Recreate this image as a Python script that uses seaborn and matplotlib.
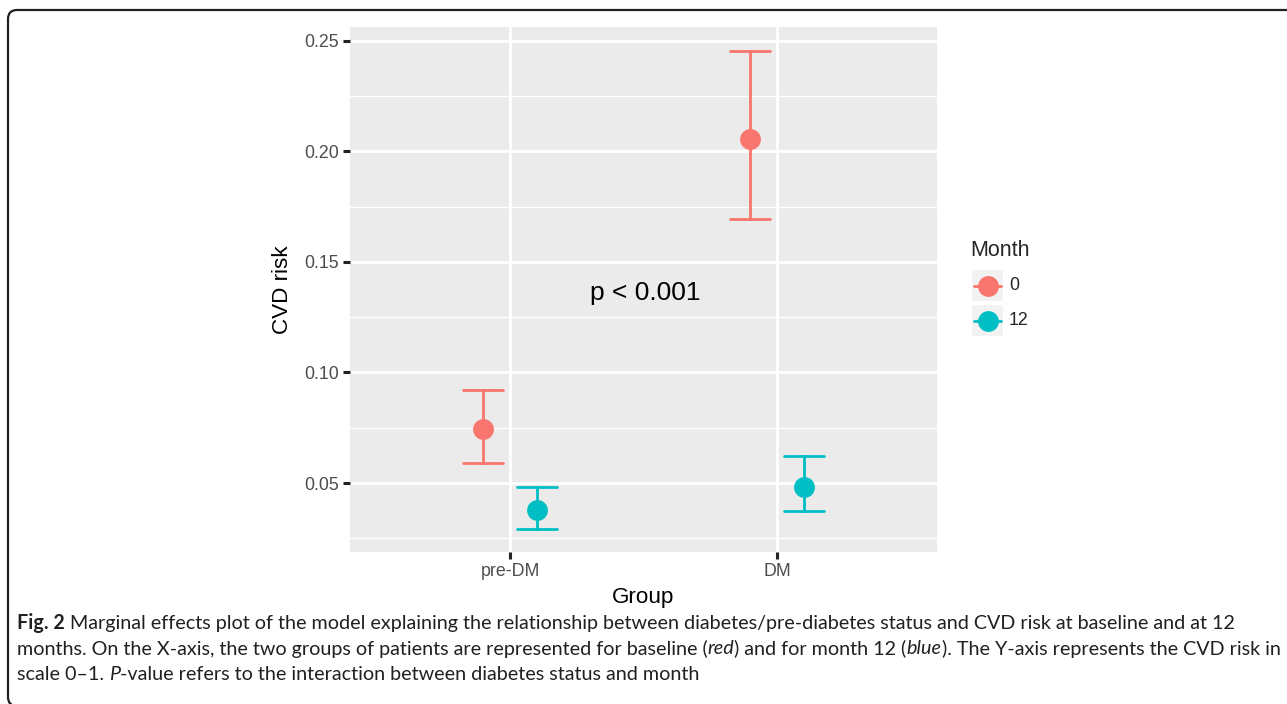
import numpy as np
import pandas as pd
import matplotlib
matplotlib.use("Agg")
import matplotlib.pyplot as plt
from matplotlib.patches import FancyBboxPatch, Rectangle
from matplotlib.lines import Line2D
from matplotlib.ticker import FixedLocator, MultipleLocator
from matplotlib.transforms import IdentityTransform
import seaborn as sns

# Data (marginal effects with confidence limits)
groups = ["pre-DM", "DM"]
months = ["0", "12"]
est_m0 = [0.0742, 0.2057]
low_m0 = [0.0591, 0.1696]
high_m0 = [0.0920, 0.2455]
est_m12 = [0.0379, 0.0484]
low_m12 = [0.0291, 0.0373]
high_m12 = [0.0482, 0.0624]
palette = {"0": "#F8766D", "12": "#00BFC4"}
y_ticks = [0.05, 0.10, 0.15, 0.20, 0.25]

# long table: low / estimate / high per cell, so median = estimate, min/max = CI
rows = []
for month, est, lo, hi in [("0", est_m0, low_m0, high_m0),
                           ("12", est_m12, low_m12, high_m12)]:
    for g, e, l, h in zip(groups, est, lo, hi):
        for v in (l, e, h):
            rows.append({"Group": g, "Month": month, "risk": v})
df = pd.DataFrame(rows)

sns.set_theme(style="darkgrid", rc={"axes.facecolor": "#EBEBEB"})
plt.rcParams["font.family"] = ["Liberation Sans", "DejaVu Sans"]

W, H = 1287, 704
fig = plt.figure(figsize=(W / 100, H / 100), dpi=100)
fig.patch.set_facecolor("white")
ax = fig.add_axes([350 / W, 1 - 552 / H, (937 - 350) / W, (552 - 27) / H])

sns.pointplot(data=df, x="Group", y="risk", hue="Month", order=groups,
              hue_order=months, palette=palette, estimator="median",
              errorbar=lambda v: (v.min(), v.max()), dodge=0.2,
              linestyle="none", markers="o", capsize=0.15,
              err_kws={"linewidth": 2}, markersize=15, markeredgewidth=0,
              legend=False, ax=ax)

ax.set_xlim(-0.6, 1.6)
ax.set_ylim(0.0188, 0.2562)
ax.yaxis.set_major_locator(FixedLocator(y_ticks))
ax.set_yticklabels([f"{t:.2f}" for t in y_ticks])
ax.yaxis.set_minor_locator(MultipleLocator(0.025))
ax.grid(which="major", color="white", linewidth=2)
ax.grid(which="minor", axis="y", color="white", linewidth=1)
ax.set_axisbelow(True)
for s in ax.spines.values():
    s.set_visible(False)
ax.tick_params(which="major", bottom=True, left=True, length=5, width=2.2,
               color="#222222", labelcolor="#4D4D4D", labelsize=12.8, pad=3)
ax.tick_params(which="minor", length=0)
ax.set_xlabel("Group", fontsize=16.2, color="black", labelpad=5)
ax.set_ylabel("CVD risk", fontsize=16.2, color="black", labelpad=8)

ax.text(0.505, 0.136, "p < 0.001", fontsize=19, ha="center", va="center",
        color="black")

# legend in ggplot style
fig.text(970 / W, 1 - 251 / H, "Month", fontsize=15.5, va="center", ha="left")
for i, m in enumerate(months):
    top = 270 + i * 35
    fig.add_artist(Rectangle((972 / W, 1 - (top + 31) / H), 31 / W, 31 / H,
                             transform=fig.transFigure, facecolor="#F2F2F2",
                             edgecolor="none"))
    cy = 1 - (top + 15.5) / H
    fig.add_artist(Line2D([974 / W, 1001 / W], [cy, cy], transform=fig.transFigure,
                          color=palette[m], linewidth=2))
    fig.add_artist(Line2D([987.5 / W], [cy], transform=fig.transFigure,
                          color=palette[m], marker="o", markersize=15,
                          markeredgewidth=0, linestyle="none"))
    fig.text(1009 / W, cy, m, fontsize=12.8, va="center", ha="left")

# frame around the figure (right and bottom edges run off the page)
fig.add_artist(FancyBboxPatch((8, -2), 1500, H - 10 + 2,
                              boxstyle="round,pad=0,rounding_size=9",
                              transform=IdentityTransform(), facecolor="none",
                              edgecolor="#222222", linewidth=1.6))

# caption with bold / italic runs
cap_font = ["Lato", "DejaVu Sans"]
cap_size = 14.2
renderer = fig.canvas.get_renderer()


def run_width(s, **kw):
    t = fig.text(0, 0, "x" + s + "x", fontsize=cap_size, family=cap_font, **kw)
    r = fig.text(0, 0, "xx", fontsize=cap_size, family=cap_font, **kw)
    w = t.get_window_extent(renderer).width - r.get_window_extent(renderer).width
    t.remove()
    r.remove()
    return w


caption = [
    [("Fig. 2", "bold", "normal"),
     (" Marginal effects plot of the model explaining the relationship between "
      "diabetes/pre-diabetes status and CVD risk at baseline and at 12", "normal", "normal")],
    [("months. On the X-axis, the two groups of patients are represented for baseline (",
      "normal", "normal"),
     ("red", "normal", "italic"),
     (") and for month 12 (", "normal", "normal"),
     ("blue", "normal", "italic"),
     ("). The Y-axis represents the CVD risk in", "normal", "normal")],
    [("scale 0\u20131. ", "normal", "normal"),
     ("P", "normal", "italic"),
     ("-value refers to the interaction between diabetes status and month",
      "normal", "normal")],
]
for li, line in enumerate(caption):
    x = 17
    y = 1 - (623 + li * 25.5) / H
    for txt, weight, style in line:
        fig.text(x / W, y, txt, fontsize=cap_size, family=cap_font,
                 weight=weight, style=style, va="center", ha="left",
                 color="#231F20")
        x += run_width(txt, weight=weight, style=style)

fig.savefig("out.png", dpi=100)
